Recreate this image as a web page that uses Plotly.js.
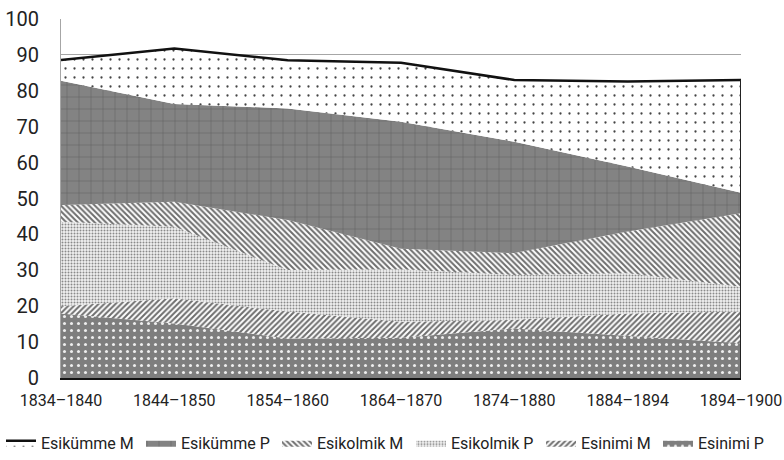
<!DOCTYPE html>
<html><head><meta charset="utf-8">
<script src="https://cdn.plot.ly/plotly-3.0.1.min.js"></script>
<style>html,body{margin:0;padding:0;background:#fff;overflow:hidden}</style>
</head><body><div id="chart" style="width:784px;height:460px"></div>
<script>
const periods = ["1834–1840","1844–1850","1854–1860","1864–1870","1874–1880","1884–1894","1894–1900"];
const esinimiP   = [18.0, 15.2, 11.0, 11.2, 13.8, 11.8, 9.7];
const esinimiM   = [2.0, 7.0, 7.5, 4.5, 2.4, 6.2, 8.8];
const esikolmikP = [23.5, 19.9, 11.6, 14.6, 12.5, 11.2, 6.9];
const esikolmikM = [4.7, 7.0, 13.9, 5.7, 6.1, 11.6, 20.5];
const esikummeP  = [34.6, 27.2, 31.1, 35.4, 31.0, 18.1, 5.7];
const esikummeM  = [5.8, 15.5, 13.4, 16.4, 17.2, 23.7, 31.4];
const seriesNames = ['Esinimi P','Esinimi M','Esikolmik P','Esikolmik M','Esikümme P','Esikümme M'];

const font = "Roboto, 'Open Sans', sans-serif";
function area(name, y, pat, legendId, topLine){
  return {type:'scatter', mode:'lines', x:periods, y:y, name:name, stackgroup:'one',
    legend: legendId,
    line:{width: topLine?2.5:0, color:'#111', shape:'linear'},
    fillcolor: pat.bgcolor, fillpattern: pat, hoverinfo:'skip'};
}
const traces = [
  area(seriesNames[0], esinimiP, {shape:'.', bgcolor:'#7e7e7e', fgcolor:'#eeeeee', size:7, solidity:0.15, fillmode:'replace'}, 'legend6'),
  area(seriesNames[1], esinimiM, {shape:'/', bgcolor:'#ffffff', fgcolor:'#6e6e6e', size:4, solidity:0.5, fillmode:'replace'}, 'legend5'),
  area(seriesNames[2], esikolmikP, {shape:'.', bgcolor:'#f2f2f2', fgcolor:'#8a8a8a', size:3, solidity:0.35, fillmode:'replace'}, 'legend4'),
  area(seriesNames[3], esikolmikM, {shape:'\\', bgcolor:'#ffffff', fgcolor:'#6e6e6e', size:4, solidity:0.5, fillmode:'replace'}, 'legend3'),
  area(seriesNames[4], esikummeP, {shape:'+', bgcolor:'#838383', fgcolor:'#5e5e5e', size:12, solidity:0.08, fillmode:'replace'}, 'legend2'),
  area(seriesNames[5], esikummeM, {shape:'.', bgcolor:'#ffffff', fgcolor:'#444444', size:9, solidity:0.05, fillmode:'replace'}, 'legend', true)
];
const last = periods.length-1;
const total = esinimiP[last]+esinimiM[last]+esikolmikP[last]+esikolmikM[last]+esikummeP[last]+esikummeM[last];
traces.push({type:'scatter', mode:'lines', x:[periods[last],periods[last]], y:[0,total],
  line:{color:'#222', width:2}, showlegend:false, hoverinfo:'skip'});

const plotL = 61, plotW = 680;
function leg(textStartPx){
  return {orientation:'h', xref:'paper', yref:'paper', x:(textStartPx-41-plotL)/plotW, xanchor:'left',
    y:-0.133, yanchor:'top', font:{size:16, family:font, color:'#222'}, itemwidth:30,
    bgcolor:'rgba(0,0,0,0)', borderwidth:0};
}
const layout = {
  width:784, height:460, paper_bgcolor:'#fff', plot_bgcolor:'#fff',
  margin:{l:61, r:43, t:19, b:82, autoexpand:false},
  font:{family:font, color:'#222'},
  showlegend:true,
  legend: leg(42), legend2: leg(182), legend3: leg(318), legend4: leg(452), legend5: leg(582), legend6: leg(699),
  xaxis:{type:'category', range:[0,6], showgrid:false, showline:true, linecolor:'#111', linewidth:2,
    ticks:'', tickfont:{size:16, family:font, color:'#222'}, ticklabelstandoff:7, zeroline:false},
  yaxis:{range:[0,100], dtick:10, showgrid:true, gridcolor:'#a6a6a6', gridwidth:1, showline:true,
    linecolor:'#a6a6a6', linewidth:1, ticks:'', tickfont:{size:20, family:font, color:'#222'},
    ticklabelstandoff:17, zeroline:false}
};
Plotly.newPlot('chart', traces, layout, {staticPlot:true});
</script></body></html>
